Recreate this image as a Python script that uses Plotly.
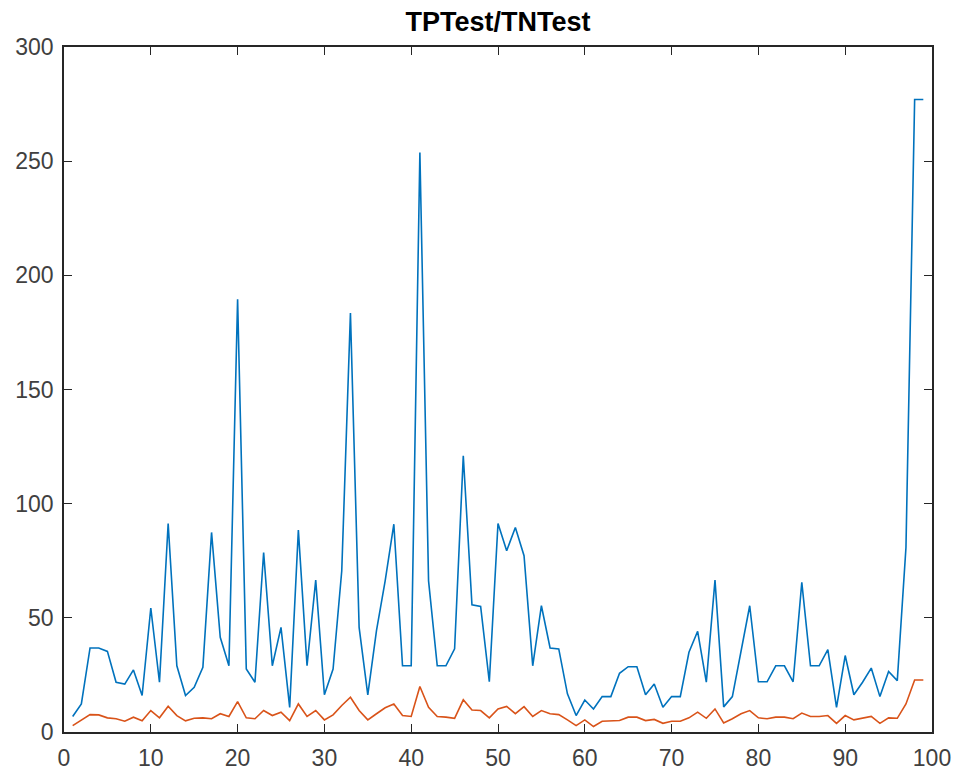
import plotly.graph_objects as go

x_vals = list(range(1, 100))

tp_test = [6.8, 12.3, 36.8, 36.8, 35.3, 21.8, 21.0, 27.2, 16.0, 54.3,
           21.8, 91.3, 29.0, 16.0, 19.6, 28.3, 87.4, 41.5, 29.0, 189.5,
           27.6, 21.8, 78.6, 29.0, 45.8, 10.8, 88.4, 29.0, 66.5, 16.3,
           27.6, 70.6, 183.5, 45.8, 16.3, 44.4, 66.2, 91.0, 29.0, 29.0,
           253.8, 66.2, 29.0, 29.0, 36.4, 121.0, 55.7, 55.0, 22.0, 91.3,
           79.4, 89.6, 77.2, 29.0, 55.3, 36.8, 36.4, 16.7, 7.2, 14.0,
           10.1, 15.5, 15.5, 25.7, 28.6, 28.6, 16.3, 21.0, 10.8, 15.5,
           15.5, 34.9, 44.1, 21.8, 66.5, 11.0, 15.5, 35.6, 55.3, 22.0,
           22.0, 29.0, 29.0, 22.0, 65.5, 29.0, 29.0, 36.1, 10.8, 33.5,
           16.3, 21.8, 28.0, 15.5, 26.5, 22.5, 80.8, 277.0, 277.0]

tn_test = [2.8, 5.3, 7.6, 7.5, 6.2, 5.8, 4.7, 6.5, 4.9, 9.4,
           6.2, 11.3, 7.2, 4.9, 6.0, 6.2, 5.8, 8.0, 6.8, 13.3,
           6.2, 5.8, 9.4, 7.2, 8.7, 5.0, 12.3, 6.8, 9.4, 5.3,
           7.5, 11.6, 15.2, 9.4, 5.3, 8.0, 10.6, 12.3, 7.2, 6.8,
           19.9, 10.8, 6.8, 6.5, 6.0, 14.1, 9.6, 9.4, 6.2, 10.1,
           11.2, 8.0, 11.1, 6.8, 9.4, 8.0, 7.6, 5.3, 2.8, 5.3,
           2.4, 4.7, 5.0, 5.0, 6.5, 6.5, 5.0, 5.5, 3.8, 4.7,
           4.7, 6.2, 8.7, 6.0, 10.1, 4.0, 5.8, 8.0, 9.4, 6.2,
           5.8, 6.5, 6.5, 5.8, 8.3, 6.8, 6.8, 7.2, 3.8, 7.2,
           5.3, 6.2, 6.8, 3.8, 6.2, 6.0, 12.3, 22.8, 22.8]

x_ticks = [0, 10, 20, 30, 40, 50, 60, 70, 80, 90, 100]
y_ticks = [0, 50, 100, 150, 200, 250, 300]

fig = go.Figure()
fig.add_trace(go.Scatter(x=x_vals, y=tp_test, mode="lines",
                         line=dict(color="#0072BD", width=1.6), name="TPTest"))
fig.add_trace(go.Scatter(x=x_vals, y=tn_test, mode="lines",
                         line=dict(color="#D95319", width=1.6), name="TNTest"))

axis_common = dict(
    showline=True, linecolor="#262626", linewidth=1.5, mirror="allticks",
    ticks="inside", ticklen=8, tickwidth=1.2, tickcolor="#262626",
    showgrid=False, zeroline=False, automargin=False,
    tickfont=dict(family="Liberation Sans, Arial, sans-serif", size=23, color="#404040"),
)

fig.update_layout(
    width=957, height=775,
    margin=dict(l=64, r=25, t=47, b=43),
    paper_bgcolor="white", plot_bgcolor="white",
    showlegend=False,
    title=dict(text="<b>TPTest/TNTest</b>", x=0.5, xanchor="center",
               xref="paper", y=1 - 22 / 775, yanchor="middle",
               font=dict(family="Liberation Sans, Arial, sans-serif", size=27, color="black")),
    xaxis=dict(range=[0, 100], tickvals=x_ticks, ticklabelstandoff=5, **axis_common),
    yaxis=dict(range=[0, 300], tickvals=y_ticks, ticklabelstandoff=4, **axis_common),
)

fig.write_html("out.html")
